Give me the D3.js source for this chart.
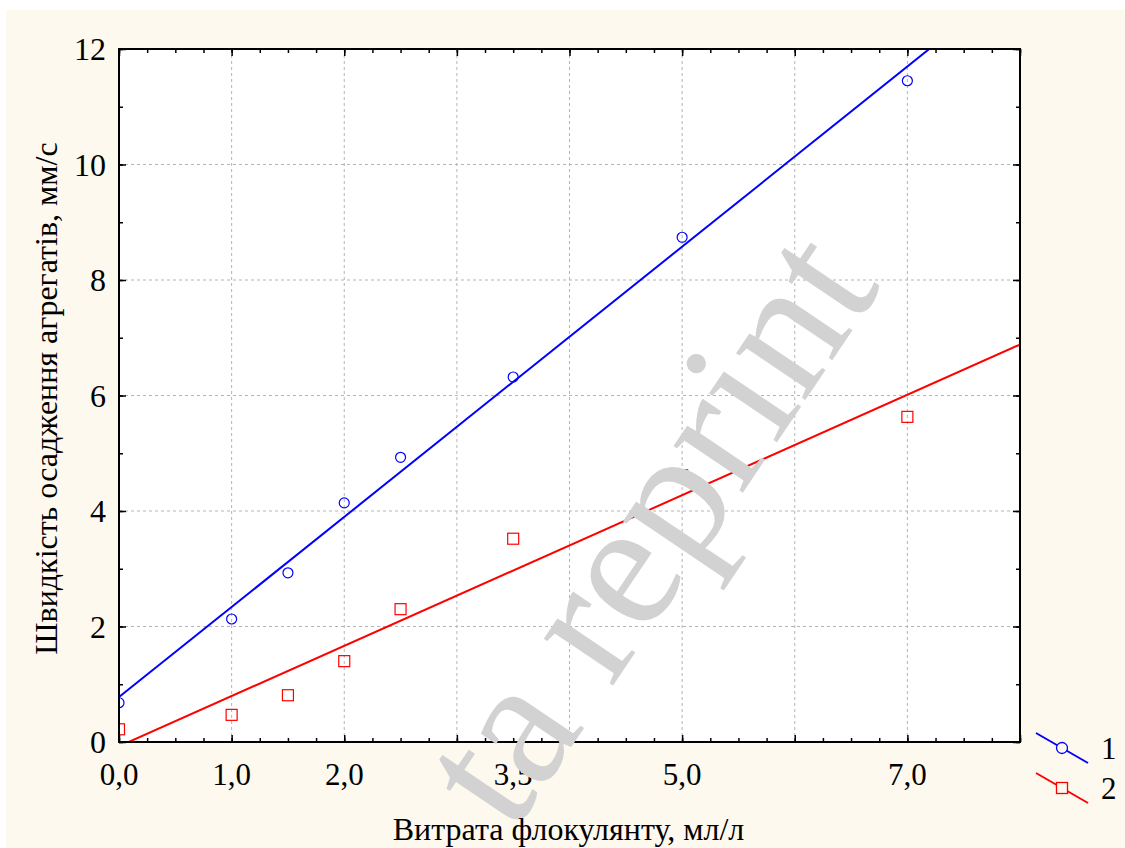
<!DOCTYPE html>
<html>
<head>
<meta charset="utf-8">
<script src="https://cdn.jsdelivr.net/npm/d3@7"></script>
</head>
<body style="margin:0">
<svg width="1125" height="848"></svg>
<script>
// Flocculant dose (ml/l) and settling rate (mm/s)
var doses = [0, 1, 1.5, 2, 2.5, 3.5, 5, 7];
var rate1 = [0.68, 2.13, 2.93, 4.14, 4.93, 6.32, 8.74, 11.45];
var rate2 = [0.22, 0.47, 0.81, 1.40, 2.30, 3.52, 4.62, 5.63];
var seriesNames = ["1", "2"];
var xLabelValues = [0, 1, 2, 3.5, 5, 7];
var yLabelValues = [0, 2, 4, 6, 8, 10, 12];

var FONT = "Liberation Serif";

var svg = d3.select("svg"),
    margin = { top: 49, right: 105, bottom: 106, left: 119 },
    width = +svg.attr("width") - margin.left - margin.right,
    height = +svg.attr("height") - margin.top - margin.bottom;

// page background
svg.append("rect").attr("x", 6).attr("y", 10)
    .attr("width", 1125).attr("height", 848).attr("fill", "#fdf9ee");

var x = d3.scaleLinear().domain([0, 8]).range([0, width]),
    y = d3.scaleLinear().domain([0, 12]).range([height, 0]);

var g = svg.append("g")
    .attr("transform", "translate(" + margin.left + "," + margin.top + ")");

g.append("rect").attr("width", width).attr("height", height).attr("fill", "#fff");

svg.append("defs").append("clipPath").attr("id", "clip")
    .append("rect").attr("width", width).attr("height", height);

// watermark (behind the marks)
svg.append("text")
    .attr("transform", "translate(512,835) rotate(-56)")
    .attr("font-size", 182).attr("fill", "#d2d2d2")
    .text("ta reprint");

// dashed grid
var grid = g.append("g");
grid.selectAll("line.v").data(d3.range(1, 8)).enter().append("line")
    .attr("x1", function(d) { return x(d); }).attr("x2", function(d) { return x(d); })
    .attr("y1", 0).attr("y2", height);
grid.selectAll("line.h").data(d3.range(2, 12, 2)).enter().append("line")
    .attr("x1", 0).attr("x2", width)
    .attr("y1", function(d) { return y(d); }).attr("y2", function(d) { return y(d); });
grid.selectAll("line")
    .attr("stroke", "#b4b4b4").attr("stroke-dasharray", "3,3").attr("stroke-width", 1);

// least squares fit
function fit(xs, ys) {
    var mx = d3.mean(xs), my = d3.mean(ys);
    var sxy = d3.sum(xs, function(v, i) { return (v - mx) * (ys[i] - my); });
    var sxx = d3.sum(xs, function(v) { return (v - mx) * (v - mx); });
    var b = sxy / sxx;
    return { a: my - b * mx, b: b };
}

var series = [
    { name: seriesNames[0], values: rate1, color: "#0000ff", shape: "circle" },
    { name: seriesNames[1], values: rate2, color: "#ff0000", shape: "square" }
];

var plot = g.append("g").attr("clip-path", "url(#clip)");

series.forEach(function(s) {
    var f = fit(doses, s.values);
    plot.append("line")
        .attr("x1", x(0)).attr("y1", y(f.a))
        .attr("x2", x(8)).attr("y2", y(f.a + f.b * 8))
        .attr("stroke", s.color).attr("stroke-width", 2);

    var pts = doses.map(function(d, i) { return [d, s.values[i]]; });
    if (s.shape == "circle") {
        plot.selectAll(null).data(pts).enter().append("circle")
            .attr("cx", function(d) { return x(d[0]); })
            .attr("cy", function(d) { return y(d[1]); })
            .attr("r", 5)
            .attr("fill", "none").attr("stroke", s.color).attr("stroke-width", 1.2);
    } else {
        plot.selectAll(null).data(pts).enter().append("rect")
            .attr("x", function(d) { return x(d[0]) - 5.5; })
            .attr("y", function(d) { return y(d[1]) - 5.5; })
            .attr("width", 11).attr("height", 11)
            .attr("fill", "none").attr("stroke", s.color).attr("stroke-width", 1.2);
    }
});

// frame with inward ticks on all four sides
function frameAxis(axis, tr) {
    var a = g.append("g").attr("transform", tr).call(axis);
    a.select(".domain").remove();
    a.selectAll("text").remove();
    a.selectAll("line").attr("stroke", "#000").attr("stroke-width", 1.5);
    return a;
}
var xMinor = d3.range(0, 8.01, 0.25), xMajor = d3.range(0, 9);
var yMinor = d3.range(0, 12.01, 1), yMajor = d3.range(0, 13, 2);

frameAxis(d3.axisBottom(x).tickValues(xMinor).tickSize(-4), "translate(0," + height + ")");
frameAxis(d3.axisBottom(x).tickValues(xMajor).tickSize(-7), "translate(0," + height + ")");
frameAxis(d3.axisTop(x).tickValues(xMinor).tickSize(-4), "translate(0,0)");
frameAxis(d3.axisTop(x).tickValues(xMajor).tickSize(-7), "translate(0,0)");
frameAxis(d3.axisLeft(y).tickValues(yMinor).tickSize(-4), "translate(0,0)");
frameAxis(d3.axisLeft(y).tickValues(yMajor).tickSize(-7), "translate(0,0)");
frameAxis(d3.axisRight(y).tickValues(yMinor).tickSize(-4), "translate(" + width + ",0)");
frameAxis(d3.axisRight(y).tickValues(yMajor).tickSize(-7), "translate(" + width + ",0)");

g.append("rect").attr("width", width).attr("height", height)
    .attr("fill", "none").attr("stroke", "#000").attr("stroke-width", 2);

// tick labels, drawn as plain text from the scales
var comma = function(d) { return d3.format(".1f")(d).replace(".", ","); };
g.selectAll("text.xl").data(xLabelValues).enter().append("text")
    .attr("x", function(d) { return x(d); }).attr("y", height + 43)
    .attr("text-anchor", "middle").attr("font-size", 31)
    .text(comma);
g.selectAll("text.yl").data(yLabelValues).enter().append("text")
    .attr("x", -13).attr("y", function(d) { return y(d) + 11; })
    .attr("text-anchor", "end").attr("font-size", 32)
    .text(function(d) { return d; });

// axis titles
svg.append("text").attr("x", margin.left + x(4) - 1).attr("y", 840)
    .attr("text-anchor", "middle").attr("font-size", 32)
    .text("Витрата флокулянту, мл/л");
svg.append("text")
    .attr("transform", "translate(57," + (margin.top + height / 2 + 3) + ") rotate(-90)")
    .attr("text-anchor", "middle").attr("font-size", 32)
    .text("Швидкість осадження агрегатів, мм/с");

// legend
var legend = svg.append("g").attr("transform", "translate(1036,733)");
series.forEach(function(s, i) {
    var lg = legend.append("g").attr("transform", "translate(0," + (i * 40) + ")");
    lg.append("line").attr("x1", 0).attr("y1", 0).attr("x2", 52).attr("y2", 30)
        .attr("stroke", s.color).attr("stroke-width", 2);
    if (s.shape == "circle") {
        lg.append("circle").attr("cx", 26).attr("cy", 15).attr("r", 5.5)
            .attr("fill", "#fdf9ee").attr("stroke", s.color).attr("stroke-width", 1.3);
    } else {
        lg.append("rect").attr("x", 20.5).attr("y", 9.5).attr("width", 11).attr("height", 11)
            .attr("fill", "#fdf9ee").attr("stroke", s.color).attr("stroke-width", 1.3);
    }
    lg.append("text").attr("x", 65).attr("y", 26).attr("font-size", 31).text(s.name);
});

// serif everywhere, set on each text
svg.selectAll("text")
    .attr("font-family", FONT)
    .style("font-family", "'Liberation Serif', 'Times New Roman', serif", "important")
    .attr("fill", function() { return d3.select(this).attr("fill") || "#000"; });
</script>
</body>
</html>
